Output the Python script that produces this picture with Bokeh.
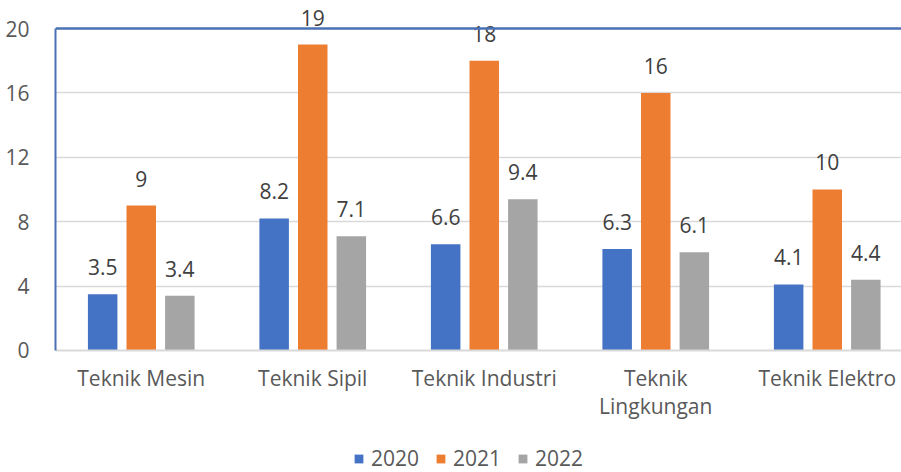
from bokeh.plotting import figure
from bokeh.models import ColumnDataSource, FixedTicker, Span, Legend, LegendItem, Range1d
from bokeh.transform import dodge
from bokeh.core.properties import value
from bokeh.embed import file_html
from bokeh.resources import INLINE

categories = ["Teknik Mesin", "Teknik Sipil", "Teknik Industri", "Teknik\nLingkungan", "Teknik Elektro"]
years = ["2020", "2021", "2022"]
v2020 = [3.5, 8.2, 6.6, 6.3, 4.1]
v2021 = [9, 19, 18, 16, 10]
v2022 = [3.4, 7.1, 9.4, 6.1, 4.4]
y_ticks = [0, 4, 8, 12, 16, 20]

colors = ["#4472C4", "#ED7D31", "#A5A5A5"]
FONT = "Open Sans"

xs = [i + 0.5 for i in range(len(categories))]
src = ColumnDataSource(dict(
    x=xs, v2020=v2020, v2021=v2021, v2022=v2022,
    l2020=[f"{v:g}" for v in v2020],
    l2021=[f"{v:g}" for v in v2021],
    l2022=[f"{v:g}" for v in v2022],
))

p = figure(width=901, height=472, output_backend="svg", toolbar_location=None,
           x_range=Range1d(0, 4.933), y_range=Range1d(-7.58, 21.74),
           min_border_left=55, min_border_right=0, min_border_top=0, min_border_bottom=0)
p.outline_line_color = None
p.background_fill_color = "white"

offsets = [-0.225, 0.0, 0.225]
renderers = []
for yr, col, off in zip(years, colors, offsets):
    r = p.vbar(x=dodge("x", off, range=p.x_range), top="v" + yr, bottom=0, width=0.172,
               source=src, fill_color=col, line_color=None)
    renderers.append(r)
    p.text(x=dodge("x", off, range=p.x_range), y="v" + yr, text="l" + yr, source=src,
           text_align="center", text_baseline="alphabetic", y_offset=-27,
           text_font=value(FONT), text_font_size="21px", text_color="#404040")

# axes
p.yaxis.ticker = FixedTicker(ticks=y_ticks)
p.yaxis.bounds = (0, 20)
p.yaxis.axis_line_color = "#4A70B5"
p.yaxis.axis_line_width = 2
p.yaxis.major_tick_line_color = None
p.yaxis.minor_tick_line_color = None
p.yaxis.major_label_standoff = 20
p.yaxis.major_label_text_font = FONT
p.yaxis.major_label_text_font_size = "21px"
p.yaxis.major_label_text_color = "#595959"

p.xaxis.fixed_location = 0
p.xaxis.ticker = FixedTicker(ticks=xs)
p.xaxis.major_label_overrides = {x: c for x, c in zip(xs, categories)}
p.xaxis.axis_line_color = "#D9D9D9"
p.xaxis.axis_line_width = 2
p.xaxis.major_tick_line_color = None
p.xaxis.minor_tick_line_color = None
p.xaxis.major_label_standoff = 8
p.xaxis.major_label_text_font = FONT
p.xaxis.major_label_text_font_size = "21px"
p.xaxis.major_label_text_color = "#595959"
p.xaxis.major_label_text_line_height = 1.0

p.xgrid.grid_line_color = None
p.ygrid.ticker = FixedTicker(ticks=y_ticks[1:-1])
p.ygrid.grid_line_color = "#D9D9D9"
p.ygrid.grid_line_width = 1.5

p.add_layout(Span(location=20, dimension="width", line_color="#4A70B5", line_width=2.5))

legend = Legend(items=[LegendItem(label=yr, renderers=[r]) for yr, r in zip(years, renderers)],
                orientation="horizontal", location=(298, 0),
                glyph_width=11, glyph_height=11, label_standoff=7, spacing=16,
                padding=0, margin=0, border_line_color=None, background_fill_alpha=0,
                label_text_font=FONT, label_text_font_size="21px", label_text_color="#595959")
p.add_layout(legend, "center")

open("out.html", "w").write(file_html(p, INLINE))
